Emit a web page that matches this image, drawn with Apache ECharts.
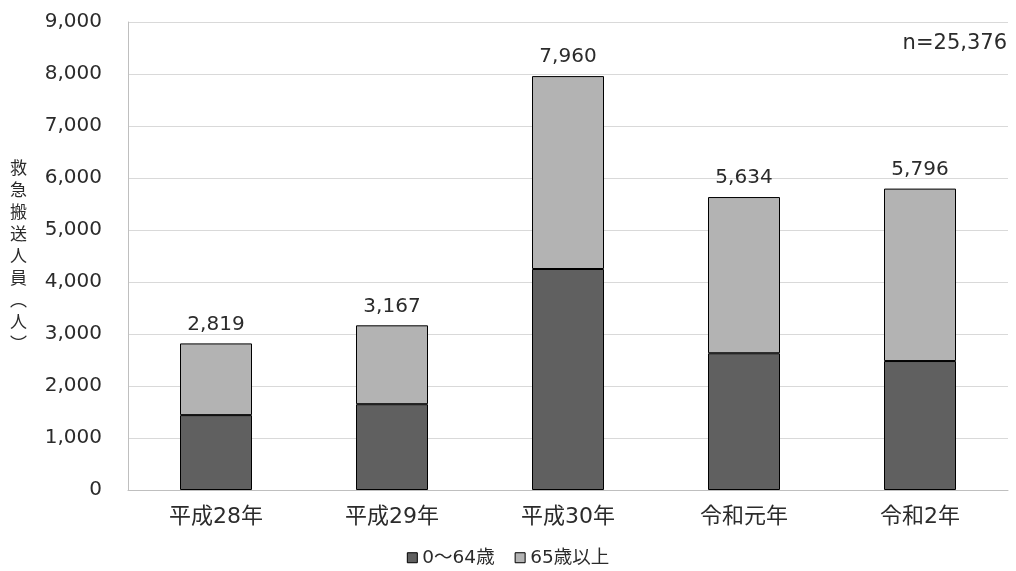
<!DOCTYPE html>
<html><head><meta charset="utf-8">
<script src="https://cdn.jsdelivr.net/npm/echarts@6/dist/echarts.min.js"></script>
<style>html,body{margin:0;padding:0;background:#fff}#c{width:1016px;height:571px}</style>
</head><body><div id="c"></div>
<script>
const categories = ['平成28年','平成29年','平成30年','令和元年','令和2年'];
const under65 = [1440, 1650, 4250, 2630, 2480];
const over65 = [1379, 1517, 3710, 3004, 3316];
const seriesNames = ['0～64歳','65歳以上'];
const totalNote = 'n=25,376';
const yTicks = {min:0, max:9000, interval:1000};

const FONT = '"DejaVu Sans", "Noto Sans CJK JP", sans-serif';
const TXT = '#2b2b2b';
const chart = echarts.init(document.getElementById('c'));
chart.setOption({
  animation:false,
  textStyle:{fontFamily:FONT},
  grid:{left:128, right:8, top:22, bottom:81, containLabel:false},
  legend:{bottom:-1, left:'center', itemWidth:10, itemHeight:10, itemGap:20, itemTextGap:4,
    textStyle:{fontSize:18.5, color:TXT, fontFamily:FONT},
    data:seriesNames.map(n=>({name:n, icon:'rect', itemStyle:{borderColor:'#000', borderWidth:1}}))},
  xAxis:{type:'category', data:categories,
    axisLine:{lineStyle:{color:'#bfbfbf'}}, axisTick:{show:false},
    axisLabel:{fontSize:22, color:TXT, margin:16}},
  yAxis:{type:'value', min:yTicks.min, max:yTicks.max, interval:yTicks.interval,
    axisLine:{show:true, lineStyle:{color:'#bfbfbf'}},
    axisTick:{show:false},
    splitLine:{lineStyle:{color:'#d9d9d9'}},
    axisLabel:{fontSize:20, color:TXT, margin:26,
      formatter:v=>v.toLocaleString('en-US')},
    name:'救\n急\n搬\n送\n人\n員\n︵\n人\n︶', nameLocation:'middle', nameGap:101, nameRotate:0,
    nameTextStyle:{fontSize:17, color:TXT, lineHeight:22, fontFamily:'"Noto Sans CJK JP", sans-serif'}},
  graphic:[{type:'text', right:9, top:33, style:{text:totalNote, fontSize:21, fill:TXT, fontFamily:FONT}}],
  series:[
    {name:seriesNames[0], type:'bar', stack:'a', data:under65, barWidth:72,
      itemStyle:{color:'#606060', borderColor:'#000', borderWidth:1}},
    {name:seriesNames[1], type:'bar', stack:'a', data:over65, barWidth:72,
      itemStyle:{color:'#b3b3b3', borderColor:'#000', borderWidth:1},
      label:{show:true, position:'top', distance:9, fontSize:20, color:TXT,
        formatter:p=>(under65[p.dataIndex]+over65[p.dataIndex]).toLocaleString('en-US')}}
  ]
});
</script></body></html>
